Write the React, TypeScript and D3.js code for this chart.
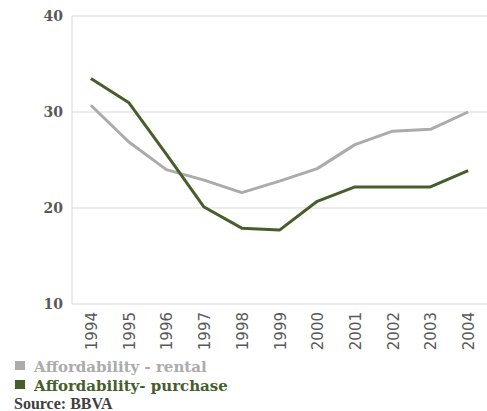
import React from "react";
import * as d3 from "d3";

const years = ["1994","1995","1996","1997","1998","1999","2000","2001","2002","2003","2004"];
const rental = [30.7, 26.9, 24.0, 22.9, 21.6, 22.8, 24.1, 26.6, 28.0, 28.2, 30.0];
const purchase = [33.5, 31.0, 25.6, 20.1, 17.9, 17.7, 20.7, 22.2, 22.2, 22.2, 23.9];
const yTicks = [10, 20, 30, 40];
const seriesNames = ["Affordability - rental", "Affordability- purchase"];
const source = "Source: BBVA";

const W = 487, H = 411;
const left = 72, right = 487, top = 16, bottom = 304;

export default function App() {
  const x = d3.scaleBand<string>().domain(years).range([left, right]).padding(0);
  const y = d3.scaleLinear().domain([10, 40]).range([bottom, top]);
  const cx = (d: string) => (x(d) as number) + x.bandwidth() / 2;
  const line = d3.line<number>().x((_, i) => cx(years[i])).y((v) => y(v));
  const grayC = "#ababab";
  const greenC = "#465e2c";
  return (
    <svg width={W} height={H} style={{ position: "absolute", left: 0, top: 0 }}>
      {yTicks.map((t) => (
        <g key={t}>
          <line x1={left} x2={right} y1={y(t)} y2={y(t)} stroke="#d9d9d9" strokeWidth={1} />
          <text x={63} y={y(t)} dy="0.35em" textAnchor="end" fontFamily="'DejaVu Serif', serif" fontWeight="bold" fontSize={14} fill="#595959">{t}</text>
        </g>
      ))}
      <line x1={left} x2={left} y1={top} y2={bottom} stroke="#d9d9d9" strokeWidth={1} />
      {years.map((yr) => (
        <text key={yr} transform={`translate(${cx(yr) + 6},${bottom + 8}) rotate(-90)`} textAnchor="end" fontFamily="'DejaVu Sans', sans-serif" fontSize={15} fill="#595959">{yr}</text>
      ))}
      <path d={line(rental) || ""} fill="none" stroke={grayC} strokeWidth={3} strokeLinejoin="round" />
      <path d={line(purchase) || ""} fill="none" stroke={greenC} strokeWidth={3} strokeLinejoin="round" />
      <rect x={15} y={361} width={10} height={9} fill={grayC} />
      <text x={34} y={372} fontFamily="'DejaVu Serif', serif" fontWeight="bold" fontSize={15} fill={grayC}>{seriesNames[0]}</text>
      <rect x={15} y={380} width={10} height={9} fill={greenC} />
      <text x={34} y={391} fontFamily="'DejaVu Serif', serif" fontWeight="bold" fontSize={15} fill={greenC}>{seriesNames[1]}</text>
      <text x={14} y={409} fontFamily="'Liberation Serif', serif" fontWeight="bold" fontSize={16} fill="#404040">{source}</text>
    </svg>
  );
}
